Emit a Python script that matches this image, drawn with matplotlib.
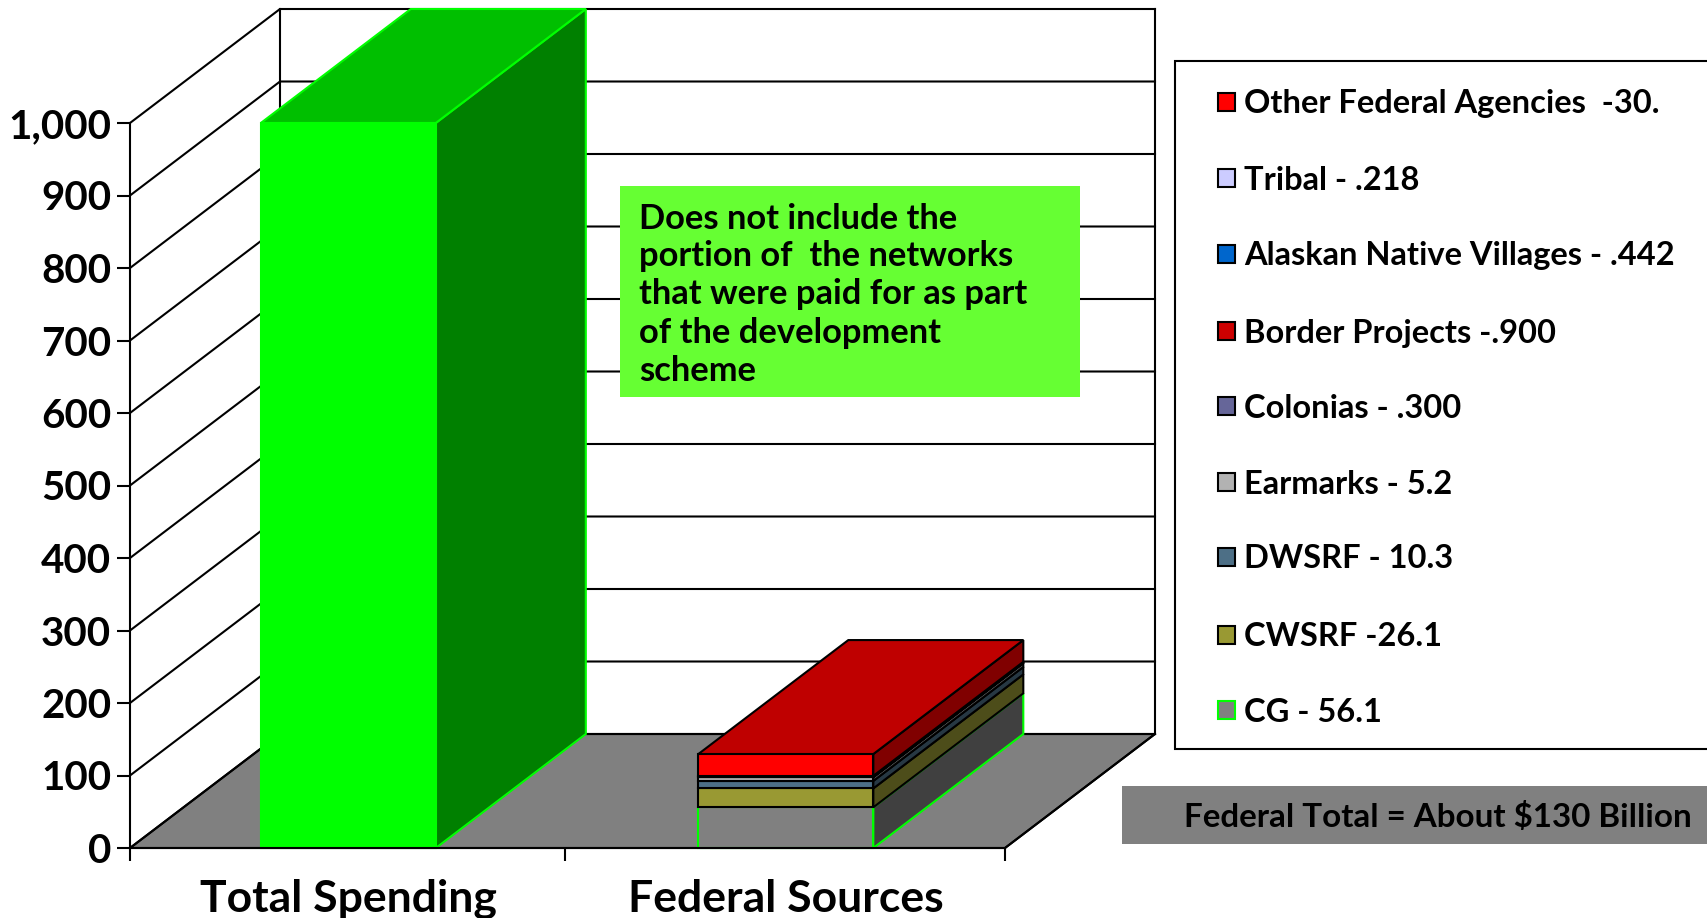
"""Total spending vs. federal sources, drawn as an oblique 3D column chart."""
import matplotlib
matplotlib.use("Agg")
import matplotlib.pyplot as plt
from matplotlib.colors import to_rgb
from matplotlib.patches import Polygon, Rectangle

categories = ["Total Spending", "Federal Sources"]
total_spending = 1000
y_ticks = [0, 100, 200, 300, 400, 500, 600, 700, 800, 900, 1000]

# stack order runs bottom to top
source_names = ["CG", "CWSRF", "DWSRF", "Earmarks", "Colonias", "Border Projects",
                "Alaskan Native Villages", "Tribal", "Other Federal Agencies"]
source_values = [56.1, 26.1, 10.3, 5.2, 0.300, 0.900, 0.442, 0.218, 30.0]
source_colors = ["#808080", "#999933", "#4D6F86", "#B2B2B2", "#666699", "#CC0000",
                 "#0066CC", "#CCCCFF", "#FF0000"]
source_edges = ["#00FF00", "black", "black", "black", "black", "black", "black", "black", "black"]

# legend reads top to bottom
legend_labels = ["Other Federal Agencies  -30.", "Tribal - .218", "Alaskan Native Villages - .442",
                 "Border Projects -.900", "Colonias - .300", "Earmarks - 5.2", "DWSRF - 10.3",
                 "CWSRF -26.1", "CG - 56.1"]
legend_colors = source_colors[::-1]
legend_edges = source_edges[::-1]

note_lines = ["Does not include the", "portion of  the networks", "that were paid for as part",
              "of the development", "scheme"]
total_note = "Federal Total = About $130 Billion"

W, H = 1707, 918
LEFT, RIGHT, BOTTOM, TOP = 130, 1005, 848, 123
DEPTH_X = 150 / ((RIGHT - LEFT) / 2)  # category units
DEPTH_Y = 114 / ((BOTTOM - TOP) / 1000)  # value units
LW = 1.5
BAR_W = 0.4

plt.rcParams["font.family"] = ["Lato", "DejaVu Sans"]
plt.rcParams["font.weight"] = "bold"

fig = plt.figure(figsize=(W / 100, H / 100), dpi=100)
ax = fig.add_axes([LEFT / W, 1 - BOTTOM / H, (RIGHT - LEFT) / W, (BOTTOM - TOP) / H])
ax.set_xlim(0, 2)
ax.set_ylim(0, 1000)
ax.patch.set_visible(False)


def shade(color, factor):
    return tuple(c * factor for c in to_rgb(color))


def face(points, color, edge, zorder):
    ax.add_patch(Polygon(points, closed=True, facecolor=color, edgecolor=edge, linewidth=LW,
                         clip_on=False, zorder=zorder, joinstyle="miter"))


def pixel_box(x0, y0, x1, y1, **kwargs):
    fig.add_artist(Rectangle((x0 / W, 1 - y1 / H), (x1 - x0) / W, (y1 - y0) / H,
                             transform=fig.transFigure, **kwargs))


def pixel_text(x, y, text, **kwargs):
    fig.text(x / W, 1 - y / H, text, va="center", color="black", **kwargs)


# floor
face([(0, 0), (2, 0), (2 + DEPTH_X, DEPTH_Y), (DEPTH_X, DEPTH_Y)], "#808080", "black", 1)

# walls: gridlines run along the side wall and across the back wall
for v in y_ticks:
    ax.plot([0, DEPTH_X, 2 + DEPTH_X], [v, v + DEPTH_Y, v + DEPTH_Y], color="black", lw=LW,
            clip_on=False, zorder=1.5, solid_joinstyle="miter")
for x in [DEPTH_X, 2 + DEPTH_X]:
    ax.plot([x, x], [DEPTH_Y, 1000 + DEPTH_Y], color="black", lw=LW, clip_on=False, zorder=1.5)
ax.plot([2, 2 + DEPTH_X], [0, DEPTH_Y], color="black", lw=LW, clip_on=False, zorder=1.5)


def draw_block(x0, y0, height, color, edge, zorder, with_top):
    x1 = x0 + BAR_W
    y1 = y0 + height
    face([(x1, y0), (x1 + DEPTH_X, y0 + DEPTH_Y), (x1 + DEPTH_X, y1 + DEPTH_Y), (x1, y1)],
         shade(color, 0.5), edge, zorder)
    if with_top:
        face([(x0, y1), (x1, y1), (x1 + DEPTH_X, y1 + DEPTH_Y), (x0 + DEPTH_X, y1 + DEPTH_Y)],
             shade(color, 0.75), edge, zorder)
    ax.bar(x0, height, BAR_W, bottom=y0, align="edge", color=color, edgecolor=edge, linewidth=LW,
           clip_on=False, zorder=zorder)


draw_block(0.299, 0, total_spending, "#00FF00", "#00FF00", 3, True)

base = 0
for i, (val, col, edge) in enumerate(zip(source_values, source_colors, source_edges)):
    draw_block(1.299, base, val, col, edge, 3 + i * 0.01, i == len(source_values) - 1)
    base += val

# axes
for side in ["top", "right"]:
    ax.spines[side].set_visible(False)
for side in ["left", "bottom"]:
    ax.spines[side].set_linewidth(LW)
    ax.spines[side].set_zorder(5)
ax.set_yticks(y_ticks)
ax.set_yticklabels([f"{v:,}" for v in y_ticks], fontsize=29, fontweight="bold")
ax.tick_params(axis="y", length=9.5, width=LW, pad=4)
ax.set_xticks([0, 0.995, 2])
ax.set_xticklabels([])
ax.tick_params(axis="x", length=9.5, width=LW)
ax.set_xticks([0.5, 1.5], minor=True)
ax.set_xticklabels(categories, minor=True, fontsize=32, fontweight="bold")
ax.tick_params(axis="x", which="minor", length=0, pad=22)

# note box
pixel_box(620, 186, 1080, 397, facecolor="#66FF33", edgecolor="none", zorder=4)
for y, line in zip([219, 256, 294, 333, 371], note_lines):
    pixel_text(639, y, line, fontsize=24.8, zorder=5, fontweight="bold")

# legend box, open past the right edge of the figure
pixel_box(1175, 61, W + 10, 749, facecolor="white", edgecolor="black", linewidth=LW, zorder=4)
for y, label, col, edge in zip([102, 178, 254, 331, 406, 482, 557, 635, 710],
                               legend_labels, legend_colors, legend_edges):
    pixel_box(1218, y - 9, 1235, y + 9, facecolor=col, edgecolor=edge, linewidth=LW, zorder=5)
    pixel_text(1244, y + 2, label, fontsize=23.5, zorder=5, fontweight="bold")

# federal total banner
pixel_box(1122, 786, W, 844, facecolor="#808080", edgecolor="none", zorder=4)
pixel_text(1184, 817, total_note, fontsize=23.9, zorder=5, fontweight="bold")

fig.savefig("out.png", dpi=100)
